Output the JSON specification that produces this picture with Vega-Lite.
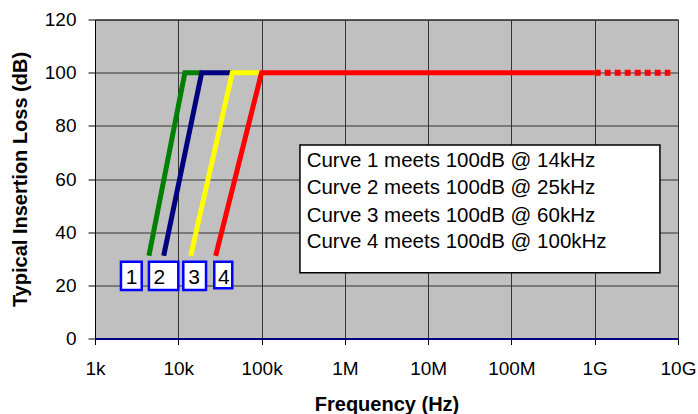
{
  "$schema": "https://vega.github.io/schema/vega-lite/v6.json",
  "width": 583,
  "height": 319,
  "autosize": "none",
  "padding": {"left": 95, "top": 19.5, "right": 20, "bottom": 75.5},
  "background": "white",
  "config": {
    "font": "Liberation Sans",
    "view": {"stroke": "#000000", "strokeWidth": 1, "fill": "#c0c0c0"}
  },
  "datasets": {
    "curves": [
      {"curve": "1", "ord": 1, "freq": 4440, "dB": 31.1},
      {"curve": "1", "ord": 2, "freq": 12000, "dB": 100},
      {"curve": "1", "ord": 3, "freq": 19100, "dB": 100},
      {"curve": "2", "ord": 1, "freq": 6680, "dB": 31.1},
      {"curve": "2", "ord": 2, "freq": 19100, "dB": 100},
      {"curve": "2", "ord": 3, "freq": 44500, "dB": 100},
      {"curve": "3", "ord": 1, "freq": 14100, "dB": 31.1},
      {"curve": "3", "ord": 2, "freq": 44500, "dB": 100},
      {"curve": "3", "ord": 3, "freq": 100000, "dB": 100},
      {"curve": "4", "ord": 1, "freq": 28100, "dB": 31.1},
      {"curve": "4", "ord": 2, "freq": 100000, "dB": 100},
      {"curve": "4", "ord": 3, "freq": 1000000000, "dB": 100}
    ],
    "extension": [
      {"curve": "4", "ord": 1, "freq": 1000000000, "dB": 100},
      {"curve": "4", "ord": 2, "freq": 8100000000, "dB": 100}
    ],
    "boxes": [
      {"label": "1", "freq": 2049, "freq2": 3639, "dB": 18.2, "dB2": 28.9, "tx": 2742},
      {"label": "2", "freq": 4443, "freq2": 10000, "dB": 18.2, "dB2": 28.9, "tx": 5903},
      {"label": "3", "freq": 11480, "freq2": 21530, "dB": 18.2, "dB2": 28.9, "tx": 15520},
      {"label": "4", "freq": 27040, "freq2": 44460, "dB": 18.9, "dB2": 28.9, "tx": 35170}
    ],
    "notebox": [
      {"freq": 289000, "freq2": 6070000000, "dB": 24.75, "dB2": 72.8}
    ],
    "notes": [
      {"text": "Curve 1 meets 100dB @ 14kHz", "freq": 347600, "dB": 64.6},
      {"text": "Curve 2 meets 100dB @ 25kHz", "freq": 347600, "dB": 54.4},
      {"text": "Curve 3 meets 100dB @ 60kHz", "freq": 347600, "dB": 43.9},
      {"text": "Curve 4 meets 100dB @ 100kHz", "freq": 347600, "dB": 33.9}
    ]
  },
  "encoding": {
    "x": {
      "field": "freq",
      "type": "quantitative",
      "scale": {"type": "log", "domain": [1000, 10000000000], "nice": false},
      "axis": {
        "values": [1000, 10000, 100000, 1000000, 10000000, 100000000, 1000000000, 10000000000],
        "labelExpr": "datum.value >= 1e9 ? round(datum.value/1e9) + 'G' : datum.value >= 1e6 ? round(datum.value/1e6) + 'M' : round(datum.value/1e3) + 'k'",
        "grid": true,
        "gridColor": "#333333",
        "gridWidth": 1,
        "gridOpacity": 1,
        "domainColor": "#000080",
        "domainWidth": 2,
        "tickColor": "#000000",
        "tickSize": 6,
        "labelFontSize": 19,
        "labelColor": "#000000",
        "labelPadding": 15,
        "labelFlush": false,
        "labelOverlap": false,
        "title": "Frequency (Hz)",
        "titleFontSize": 20,
        "titleFontWeight": "bold",
        "titleColor": "#000000",
        "titleBaseline": "alphabetic",
        "titleY": 72
      }
    },
    "y": {
      "field": "dB",
      "type": "quantitative",
      "scale": {"domain": [0, 120], "nice": false},
      "axis": {
        "values": [0, 20, 40, 60, 80, 100, 120],
        "grid": true,
        "gridColor": "#333333",
        "gridWidth": 1,
        "gridOpacity": 1,
        "domainColor": "#000000",
        "tickColor": "#000000",
        "tickSize": 7,
        "labelFontSize": 19,
        "labelColor": "#000000",
        "labelPadding": 12,
        "title": "Typical Insertion Loss (dB)",
        "titleFontSize": 20,
        "titleFontWeight": "bold",
        "titleColor": "#000000",
        "titleAngle": -90,
        "titleAlign": "center",
        "titleBaseline": "alphabetic",
        "titleX": -69,
        "titleY": 159.5
      }
    }
  },
  "layer": [
    {
      "data": {"name": "curves"},
      "mark": {"type": "line", "strokeWidth": 5, "strokeCap": "butt", "strokeJoin": "miter"},
      "encoding": {
        "color": {
          "field": "curve",
          "type": "nominal",
          "scale": {"domain": ["1", "2", "3", "4"], "range": ["#008000", "#000080", "#ffff00", "#ff0000"]},
          "legend": null
        },
        "order": {"field": "ord", "type": "quantitative"}
      }
    },
    {
      "data": {"name": "extension"},
      "mark": {"type": "line", "strokeWidth": 6, "strokeCap": "butt", "strokeDash": [6, 4]},
      "encoding": {
        "color": {"field": "curve", "type": "nominal", "legend": null},
        "order": {"field": "ord", "type": "quantitative"}
      }
    },
    {
      "data": {"name": "boxes"},
      "mark": {"type": "rect", "fill": "#ffffff", "stroke": "#0000ff", "strokeWidth": 2.5},
      "encoding": {
        "x2": {"field": "freq2"},
        "y2": {"field": "dB2"}
      }
    },
    {
      "data": {"name": "boxes"},
      "mark": {"type": "text", "fontSize": 21, "align": "center", "baseline": "alphabetic", "color": "#000000"},
      "encoding": {
        "x": {"field": "tx", "type": "quantitative"},
        "y": {"datum": 20.4},
        "text": {"field": "label"}
      }
    },
    {
      "data": {"name": "notebox"},
      "mark": {"type": "rect", "fill": "#ffffff", "stroke": "#000000", "strokeWidth": 1.5},
      "encoding": {
        "x2": {"field": "freq2"},
        "y2": {"field": "dB2"}
      }
    },
    {
      "data": {"name": "notes"},
      "mark": {"type": "text", "fontSize": 20.5, "align": "left", "baseline": "alphabetic", "color": "#000000"},
      "encoding": {
        "text": {"field": "text"}
      }
    }
  ]
}
